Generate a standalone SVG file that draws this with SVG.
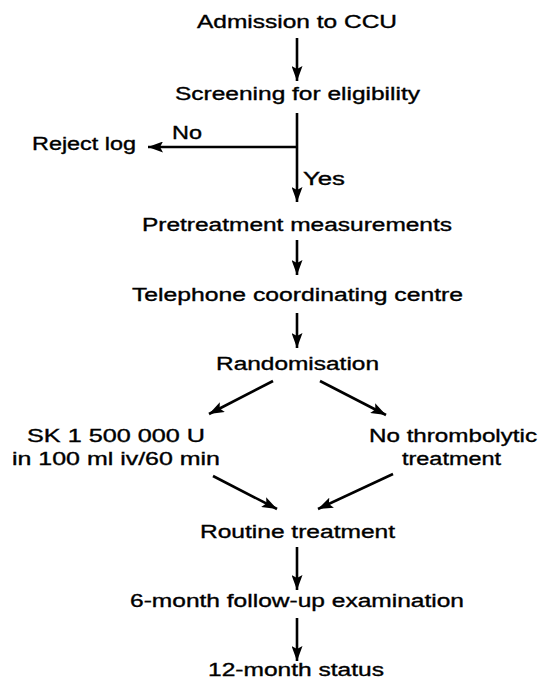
<svg xmlns="http://www.w3.org/2000/svg" width="542" height="681" viewBox="0 0 542 681">
<style>
text { font-family: "Liberation Sans", Arial, Helvetica, sans-serif; font-size: 18px; fill: #000; stroke: #000; stroke-width: 0.35; }
.c { fill: none; stroke: #000; stroke-width: 2.6; marker-end: url(#ah); }
</style>
<defs>
<marker id="ah" markerUnits="userSpaceOnUse" markerWidth="16" markerHeight="11" refX="15" refY="5.5" orient="auto">
<path d="M0,0 L15,5.5 L0,11 L3,5.5 z" fill="#000"/>
</marker>
</defs>
<rect width="542" height="681" fill="#fff"/>
<g id="connectors">
<line class="c" x1="297" y1="38" x2="297" y2="81"/>
<line class="c" x1="297" y1="113" x2="297" y2="202"/>
<line class="c" x1="297" y1="147" x2="148" y2="147"/>
<line class="c" x1="297" y1="240" x2="297" y2="275"/>
<line class="c" x1="297" y1="313" x2="297" y2="348"/>
<line class="c" x1="273" y1="381" x2="209" y2="414"/>
<line class="c" x1="320" y1="381" x2="386" y2="415"/>
<line class="c" x1="213" y1="476" x2="277" y2="509"/>
<line class="c" x1="393" y1="474" x2="318" y2="509"/>
<line class="c" x1="297" y1="547" x2="297" y2="590"/>
<line class="c" x1="297" y1="618" x2="297" y2="661"/>
</g>
<g id="admission"><text x="197" y="28" textLength="200" lengthAdjust="spacingAndGlyphs">Admission to CCU</text></g>
<g id="screening"><text x="175" y="100" textLength="245" lengthAdjust="spacingAndGlyphs">Screening for eligibility</text></g>
<g id="reject"><text x="32" y="150" textLength="104" lengthAdjust="spacingAndGlyphs">Reject log</text></g>
<g id="label-no"><text x="172" y="139" textLength="30" lengthAdjust="spacingAndGlyphs">No</text></g>
<g id="label-yes"><text x="303" y="185" textLength="42" lengthAdjust="spacingAndGlyphs">Yes</text></g>
<g id="pretreatment"><text x="142" y="231" textLength="310" lengthAdjust="spacingAndGlyphs">Pretreatment measurements</text></g>
<g id="telephone"><text x="132" y="301" textLength="331" lengthAdjust="spacingAndGlyphs">Telephone coordinating centre</text></g>
<g id="randomisation"><text x="216" y="370" textLength="163" lengthAdjust="spacingAndGlyphs">Randomisation</text></g>
<g id="sk">
<text x="27" y="442" textLength="178" lengthAdjust="spacingAndGlyphs">SK 1 500 000 U</text>
<text x="12" y="465" textLength="208" lengthAdjust="spacingAndGlyphs">in 100 ml iv/60 min</text>
</g>
<g id="no-thrombolytic">
<text x="369" y="442" textLength="168" lengthAdjust="spacingAndGlyphs">No thrombolytic</text>
<text x="402" y="465" textLength="99" lengthAdjust="spacingAndGlyphs">treatment</text>
</g>
<g id="routine"><text x="200" y="538" textLength="195" lengthAdjust="spacingAndGlyphs">Routine treatment</text></g>
<g id="followup"><text x="130" y="607" textLength="334" lengthAdjust="spacingAndGlyphs">6-month follow-up examination</text></g>
<g id="status"><text x="208" y="676" textLength="176" lengthAdjust="spacingAndGlyphs">12-month status</text></g>
</svg>
